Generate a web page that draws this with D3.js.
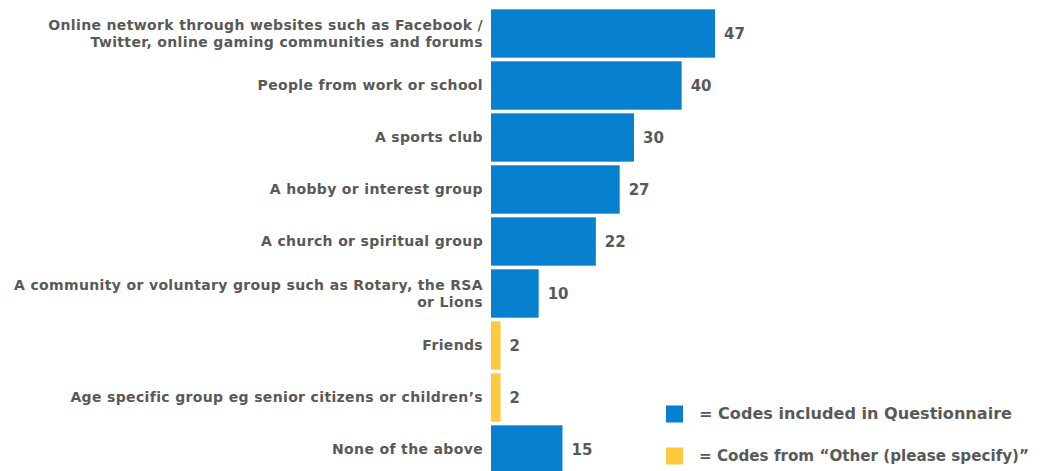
<!DOCTYPE html>
<html><head><meta charset="utf-8">
<script src="https://cdn.jsdelivr.net/npm/d3@7"></script>
<style>body{margin:0;background:#fff}svg{display:block}</style>
</head><body>
<script>
const categories = [
  "Online network through websites such as Facebook /\nTwitter, online gaming communities and forums",
  "People from work or school",
  "A sports club",
  "A hobby or interest group",
  "A church or spiritual group",
  "A community or voluntary group such as Rotary, the RSA\nor Lions",
  "Friends",
  "Age specific group eg senior citizens or children\u2019s",
  "None of the above"
];
const values = [47, 40, 30, 27, 22, 10, 2, 2, 15];
const sources = ["q","q","q","q","q","q","o","o","q"];
const legendLabels = ["= Codes included in Questionnaire", "= Codes from  \u201cOther (please specify)\u201d"];
const legendKeys = ["q","o"];

const W = 1044, H = 471;
const color = d3.scaleOrdinal().domain(["q","o"]).range(["#0780D0", "#FDCA3D"]);
const textCol = "#595959";
const font = "'DejaVu Sans', sans-serif";

const svg = d3.select("body").append("svg").attr("width", W).attr("height", H);

const y = d3.scaleBand().domain(categories).range([7.5, 475.5]).paddingInner(0.07).paddingOuter(0.035);
const x = d3.scaleLinear().domain([0, 47]).range([491, 715]);

const data = categories.map((c, i) => ({c, v: values[i], s: sources[i]}));

svg.selectAll("rect.bar").data(data).join("rect")
  .attr("class", "bar")
  .attr("x", x(0))
  .attr("y", d => y(d.c))
  .attr("width", d => x(d.v) - x(0))
  .attr("height", y.bandwidth())
  .attr("fill", d => color(d.s));

svg.selectAll("text.val").data(data).join("text")
  .attr("class", "val")
  .attr("x", d => x(d.v) + 9)
  .attr("y", d => y(d.c) + y.bandwidth() / 2)
  .attr("dy", "0.35em")
  .attr("fill", textCol)
  .attr("font-family", font)
  .attr("font-weight", "bold")
  .attr("font-size", 15)
  .text(d => d.v);

const lab = svg.selectAll("text.cat").data(data).join("text")
  .attr("class", "cat")
  .attr("text-anchor", "end")
  .attr("fill", textCol)
  .attr("font-family", font)
  .attr("font-weight", "bold")
  .attr("font-size", 14)
  .attr("letter-spacing", 0.35);
lab.each(function(d) {
  const lines = d.c.split("\n");
  const cy = y(d.c) + y.bandwidth() / 2;
  const lh = 17;
  const t = d3.select(this);
  lines.forEach((ln, k) => {
    t.append("tspan")
      .attr("x", 483)
      .attr("y", cy + (k - (lines.length - 1) / 2) * lh)
      .attr("dy", "0.35em")
      .text(ln);
  });
});

const legendWidths = [313, 330];
const lg = svg.append("g");
legendKeys.forEach((k, i) => {
  const cy = 414 + i * 42;
  lg.append("rect").attr("x", 666).attr("y", cy - 8.5).attr("width", 17).attr("height", 17).attr("fill", color(k));
  lg.append("text").attr("x", 699).attr("y", cy).attr("dy", "0.35em")
    .attr("fill", textCol).attr("font-family", font).attr("font-weight", "bold").attr("font-size", 15)
    .attr("textLength", legendWidths[i]).attr("lengthAdjust", "spacingAndGlyphs")
    .text(legendLabels[i]);
});
</script>
</body></html>
